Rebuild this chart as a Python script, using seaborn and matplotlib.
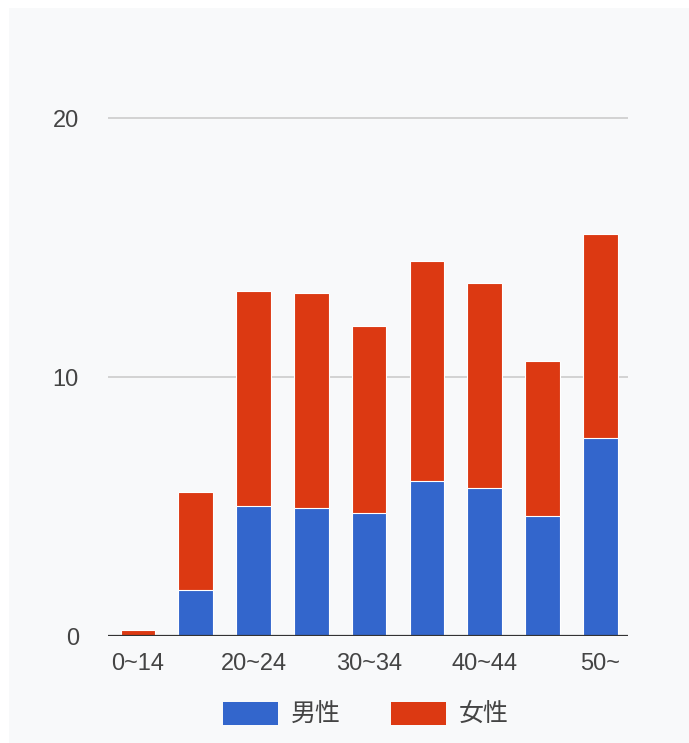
import matplotlib
matplotlib.use("Agg")
import matplotlib.pyplot as plt
import seaborn as sns
import pandas as pd
from matplotlib.patches import Patch, Rectangle

categories = ["0~14", "15~19", "20~24", "25~29", "30~34", "35~39", "40~44", "45~49", "50~"]
male = [0.0, 1.78, 5.02, 4.93, 4.75, 6.0, 5.7, 4.64, 7.63]
female = [0.25, 3.79, 8.31, 8.30, 7.23, 8.48, 7.92, 5.99, 7.89]
tick_labels = ["0~14", "", "20~24", "", "30~34", "", "40~44", "", "50~"]
series_names = ["男性", "女性"]
yticks = [0, 10, 20]

BLUE = "#3366cc"
RED = "#dc3912"
BG = "#f8f9fa"
TXT = "#444444"

sns.set_theme(style="white")
plt.rcParams["font.family"] = ["Liberation Sans", "Noto Sans CJK JP", "DejaVu Sans"]

df = pd.DataFrame({"cat": categories, "male": male, "female": female})
df["total"] = df["male"] + df["female"]

fig = plt.figure(figsize=(6.89, 7.43), dpi=100, facecolor=BG)
fig.patches.append(Rectangle((0, (743 - 8) / 743), 1, 8 / 743, transform=fig.transFigure,
                             facecolor="white", edgecolor="none", zorder=-10))
fig.patches.append(Rectangle((0, 0), 9 / 689, 1, transform=fig.transFigure,
                             facecolor="white", edgecolor="none", zorder=-10))
ax = fig.add_axes([108 / 689, 0.1440, 520 / 689, 0.7669])
ax.set_facecolor("none")

sns.barplot(data=df, x="cat", y="total", color=RED, saturation=1, width=0.6,
            edgecolor="white", linewidth=0.8, ax=ax, zorder=3)
sns.barplot(data=df, x="cat", y="male", color=BLUE, saturation=1, width=0.6,
            edgecolor="white", linewidth=0.8, ax=ax, zorder=4)

ax.set_xlim(-0.52, 8.48)
ax.set_ylim(0, 22)
ax.set_yticks(yticks)
ax.set_yticklabels([str(v) for v in yticks])
ax.set_xticks(range(len(categories)))
ax.set_xticklabels(tick_labels)
ax.set_xlabel("")
ax.set_ylabel("")
for s in ax.spines.values():
    s.set_visible(False)
for v in yticks[1:]:
    ax.axhline(v, color="#cccccc", linewidth=1.2, zorder=1)
ax.axhline(0, color="#333333", linewidth=1.6, zorder=5)
ax.tick_params(axis="y", length=0, pad=21, labelsize=17, labelcolor=TXT)
ax.tick_params(axis="x", length=0, pad=12, labelsize=17, labelcolor=TXT)

handles = [Patch(facecolor=BLUE, edgecolor="none"), Patch(facecolor=RED, edgecolor="none")]
fig.legend(handles, series_names, loc="center", bbox_to_anchor=(0.531, 0.038), ncol=2,
           frameon=False, fontsize=18, handlelength=2.2, handleheight=1.05,
           handletextpad=0.5, columnspacing=2.0, labelcolor=TXT)

fig.savefig("out.png", dpi=100, facecolor=fig.get_facecolor())
